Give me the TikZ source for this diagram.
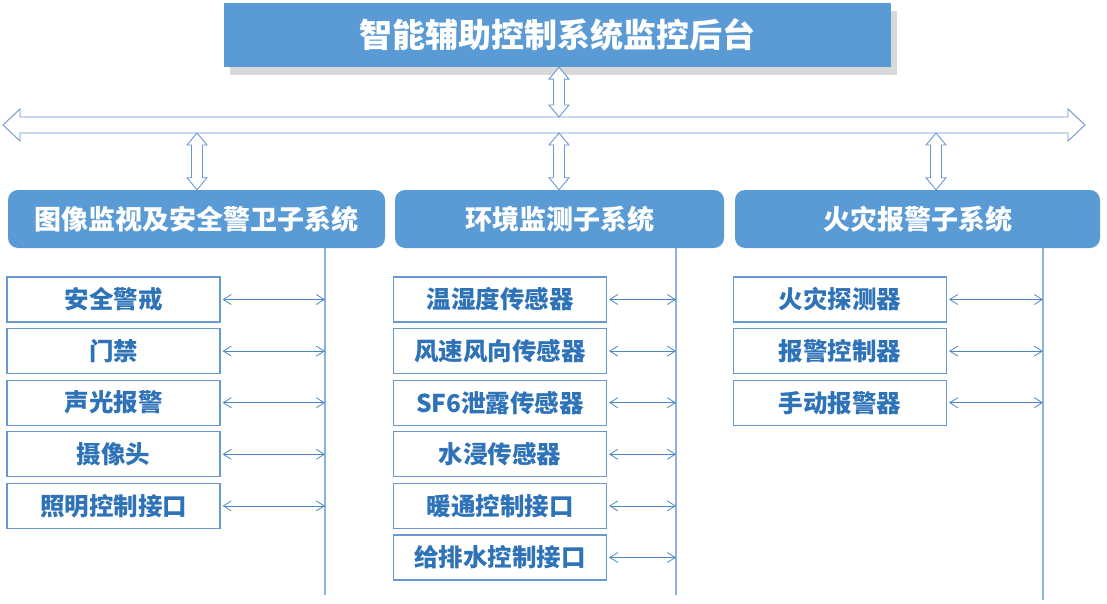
\documentclass[tikz,border=0pt]{standalone}
\usepackage{fontspec}
\setmainfont{Noto Sans CJK SC}
\usepackage{tikz}
\usetikzlibrary{arrows.meta,positioning,calc,shadows}

\definecolor{boxblue}{HTML}{5B9BD5}
\definecolor{textblue}{HTML}{2E72B8}
\definecolor{edgeblue}{HTML}{6A98D0}
\definecolor{lineblue}{HTML}{8DB2E0}

% vertical hollow double arrow, tip at #1 (upper) and #2 (lower)
\newcommand\fatarrow[2]{%
    \draw[fatarr] (#1) -- ($(#1)+(10,12)$) -- ($(#1)+(5.5,12)$)
        -- ($(#2)+(5.5,-12)$) -- ($(#2)+(10,-12)$) -- (#2)
        -- ($(#2)+(-10,-12)$) -- ($(#2)+(-5.5,-12)$)
        -- ($(#1)+(-5.5,12)$) -- ($(#1)+(-10,12)$) -- cycle;}

\begin{document}
\begin{tikzpicture}[x=1pt, y=-1pt, align=center, node distance=5.5pt and 0pt]
    \tikzset{
        head/.style     =   { rectangle
                            , fill=boxblue
                            , text=white
                            , font=\bfseries\fontsize{33}{33}\selectfont
                            , minimum width=667pt
                            , minimum height=64pt
                            , drop shadow={shadow xshift=6pt, shadow yshift=-8pt, opacity=0.25, fill=black!60}
        }
        , sub/.style    =   { rectangle
                            , rounded corners=10pt
                            , fill=boxblue
                            , text=white
                            , font=\bfseries\fontsize{27}{27}\selectfont
                            , minimum height=58pt
        }
        , item/.style   =   { rectangle
                            , draw=edgeblue
                            , line width=1.1pt
                            , fill=white
                            , text=textblue
                            , font=\bfseries\fontsize{24.5}{24.5}\selectfont
                            , minimum width=213pt
                            , minimum height=45pt
        }
        , fatarr/.style =   { draw=edgeblue
                            , line width=0.9pt
                            , fill=white
                            , line join=miter
        }
        , vline/.style  =   { draw=lineblue
                            , line width=1.4pt
        }
        , link/.style   =   { draw=textblue!85
                            , line width=0.8pt
                            , {Straight Barb[length=8pt, width=10pt]}-{Straight Barb[length=8pt, width=10pt]}
                            , shorten <= 2pt
        }
    }
    \useasboundingbox (0,0) rectangle (1107,604);

    \node(top)[head] at (557,35) {智能辅助控制系统监控后台};

    % bus
    \coordinate(busL) at (3,125);
    \coordinate(busR) at (1085,125);
    \draw[fatarr] (busL) -- ++(17,-16) -- ++(0,8) -- ($(busR)+(-17,-8)$) -- ++(0,-8)
        -- (busR) -- ++(-17,16) -- ++(0,-8) -- ($(busL)+(17,8)$) -- ++(0,8) -- cycle;

    \node(sub1)[sub, minimum width=377pt] at (196.5,219) {图像监视及安全警卫子系统};
    \node(sub2)[sub, minimum width=329pt] at (559.5,219) {环境监测子系统};
    \node(sub3)[sub, minimum width=365pt] at (917.5,219) {火灾报警子系统};

    \coordinate(a0) at (top.south -| 559,0);
    \coordinate(b0) at (559,117);
    \coordinate(a1) at (197,133);
    \coordinate(a2) at (559,133);
    \coordinate(a3) at (936,133);
    \fatarrow{a0}{b0}
    \fatarrow{a1}{a1 |- sub1.north}
    \fatarrow{a2}{a2 |- sub2.north}
    \fatarrow{a3}{a3 |- sub3.north}

    % column lines
    \coordinate(l1) at (325,248);
    \coordinate(l2) at (676,248);
    \coordinate(l3) at (1043,248);
    \draw[vline] (l1) -- (325,595);
    \draw[vline] (l2) -- (676,595);
    \draw[vline] (l3) -- (1043,600);

    % left column
    \node(p1)[item] at (113.5,299.5) {安全警戒};
    \node(p2)[item, below=of p1] {门禁};
    \node(p3)[item, below=of p2] {声光报警};
    \node(p4)[item, below=of p3] {摄像头};
    \node(p5)[item, below=of p4] {照明控制接口};

    % middle column
    \node(q1)[item] at (500,299.5) {温湿度传感器};
    \node(q2)[item, below=of q1] {风速风向传感器};
    \node(q3)[item, below=of q2] {SF6泄露传感器};
    \node(q4)[item, below=of q3] {水浸传感器};
    \node(q5)[item, below=of q4] {暖通控制接口};
    \node(q6)[item, below=of q5] {给排水控制接口};

    % right column
    \node(r1)[item] at (840,299.5) {火灾探测器};
    \node(r2)[item, below=of r1] {报警控制器};
    \node(r3)[item, below=of r2] {手动报警器};

    \foreach \n in {p1,p2,p3,p4,p5}
        \draw[link] (\n.east) -- (\n.east -| l1);
    \foreach \n in {q1,q2,q3,q4,q5,q6}
        \draw[link] (\n.east) -- (\n.east -| l2);
    \foreach \n in {r1,r2,r3}
        \draw[link] (\n.east) -- (\n.east -| l3);
\end{tikzpicture}
\end{document}
